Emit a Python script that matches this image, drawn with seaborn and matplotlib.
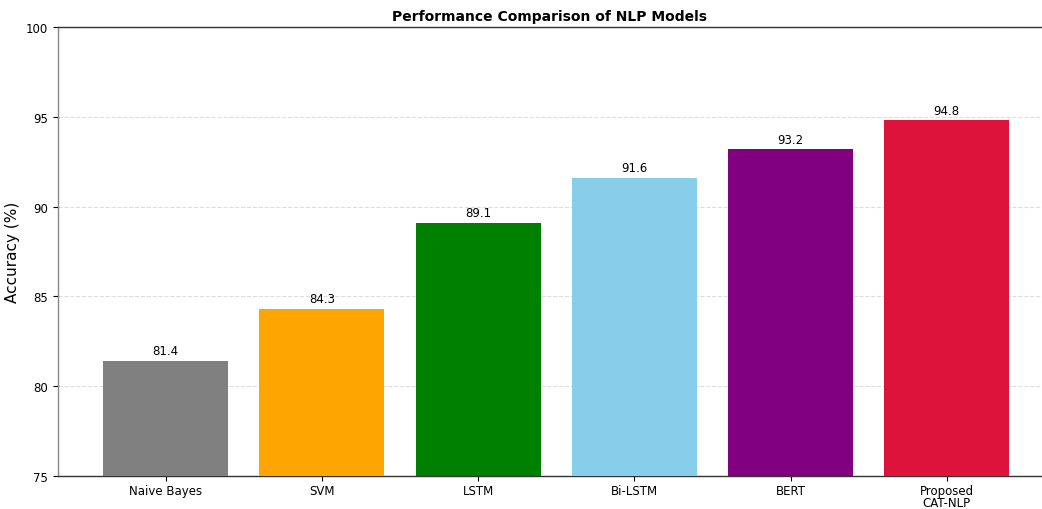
import matplotlib
matplotlib.use("Agg")
import matplotlib.pyplot as plt
import seaborn as sns
import pandas as pd

models = ["Naive Bayes", "SVM", "LSTM", "Bi-LSTM", "BERT", "Proposed\nCAT-NLP"]
accuracy = [81.4, 84.3, 89.1, 91.6, 93.2, 94.8]
colors = ["gray", "orange", "green", "skyblue", "purple", "crimson"]

sns.set_style("white")
plt.rcParams['font.family'] = ['DejaVu Sans']
plt.rcParams['text.color'] = 'black'
plt.rcParams['xtick.color'] = 'black'
plt.rcParams['ytick.color'] = 'black'
plt.rcParams['axes.labelcolor'] = 'black'

df = pd.DataFrame({"Model": models, "Accuracy": accuracy})

fig = plt.figure(figsize=(10.42, 5.10), dpi=100)
ax = fig.add_axes([58/1042, 1 - 477/510, 1 - 58/1042, (477 - 28)/510])

sns.barplot(data=df, x="Model", y="Accuracy", hue="Model", palette=colors,
            saturation=1, width=0.8, legend=False, ax=ax, zorder=3,
            linewidth=0)

for i, v in enumerate(accuracy):
    ax.text(i, v + 0.2, f"{v}", ha="center", va="bottom", fontsize=8.5, zorder=4)

ax.set_ylim(75, 100)
ax.set_xlim(-0.69, 5.61)
ax.set_yticks([75, 80, 85, 90, 95, 100])
ax.yaxis.grid(True, linestyle="--", color="#dddddd", linewidth=0.8, zorder=0)
ax.set_axisbelow(True)
ax.set_title("Performance Comparison of NLP Models", fontsize=10, fontweight="bold", pad=5)
ax.set_ylabel("Accuracy (%)", fontsize=11)
ax.set_xlabel("")
ax.tick_params(axis="both", labelsize=8.5, length=3.5, bottom=True, left=True)
ax.tick_params(axis="x", pad=2)
for lbl in ax.get_xticklabels():
    lbl.set_linespacing(0.95)
for s in ["left", "bottom", "top"]:
    ax.spines[s].set_visible(True)
    ax.spines[s].set_color("#333333")
    ax.spines[s].set_linewidth(1.0)
ax.spines["left"].set_color("#888888")
ax.spines["right"].set_visible(False)

fig.savefig("out.png", dpi=100)
